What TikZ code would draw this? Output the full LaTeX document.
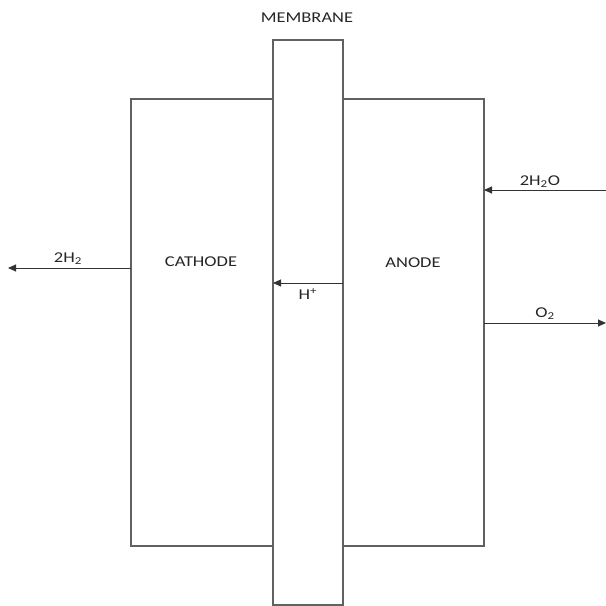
\documentclass[tikz,border=0pt]{standalone}
\usepackage{fontspec}
\setmainfont{Carlito}
\usetikzlibrary{arrows.meta}
\newcommand{\wide}[1]{\scalebox{1.23}[1]{#1}}
\tikzset{
  box/.style={draw=black!62, line width=1.1pt, fill=white, inner sep=0pt, outer sep=0pt},
  flow/.style={draw=black!80, line width=0.9pt, -{Triangle[length=8pt,width=7pt]}},
  lbl/.style={font=\fontsize{15}{17}\selectfont, text=black!85, inner sep=0pt}
}
\begin{document}
\begin{tikzpicture}[x=1pt,y=-1pt]
\useasboundingbox (0,0) rectangle (606,606);
% cathode and anode compartments
\node[box, minimum width=142pt, minimum height=447pt] (cathode) at (202,322.5) {};
\node[box, minimum width=141pt, minimum height=447pt] (anode) at (413.5,322.5) {};
% membrane
\node[box, minimum width=70pt, minimum height=565pt] (membrane) at (308,322.5) {};
% labels
\node[lbl] (lmem) at (307,18) {\wide{MEMBRANE}};
\node[lbl] (lcat) at (201,262) {\wide{CATHODE}};
\node[lbl] (lano) at (413,263) {\wide{ANODE}};
% free ends
\coordinate (h2end) at (8,268);
\coordinate (h2oin) at (606,190);
\coordinate (o2end) at (606,323);
\coordinate (hlev) at (0,283);
% connectors
\draw[flow] (h2end -| cathode.west) -- (h2end);
\draw[flow] (h2oin) -- (h2oin -| anode.east);
\draw[flow] (o2end -| anode.east) -- (o2end);
\draw[flow] (hlev -| membrane.east) -- (hlev -| membrane.west);
% connector labels
\node[lbl] (lh2) at (68,259) {\wide{2H\textsubscript{2}}};
\node[lbl] (lh2o) at (540,182) {\wide{2H\textsubscript{2}O}};
\node[lbl] (lo2) at (545,314) {\wide{O\textsubscript{2}}};
\node[lbl] (lhp) at (308,294) {\wide{H\textsuperscript{+}}};
\end{tikzpicture}
\end{document}
